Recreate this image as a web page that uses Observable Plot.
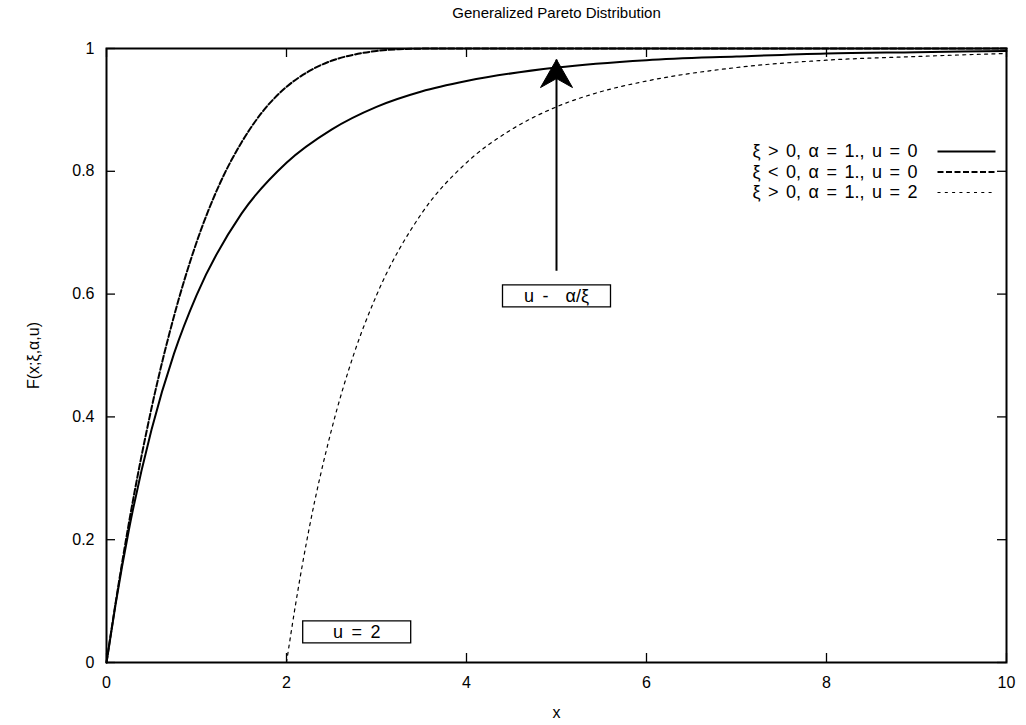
<!DOCTYPE html>
<html><head><meta charset="utf-8">
<script src="https://cdn.jsdelivr.net/npm/d3@7"></script>
<script src="https://cdn.jsdelivr.net/npm/@observablehq/plot@0.6"></script>
<style>
body{margin:0;background:#fff;}
svg{font-family:"Liberation Sans",Arial,Helvetica,sans-serif;}
.wide text{word-spacing:2.5px;}
.wider text{word-spacing:3.5px;}
</style>
</head><body><div id="chart"></div>
<script>
// ---- data ----
const title = "Generalized Pareto Distribution";
const xLabel = "x";
const yLabel = "F(x;ξ,α,u)";
const xTicks = [0, 2, 4, 6, 8, 10];
const yTicks = [0, 0.2, 0.4, 0.6, 0.8, 1];

// ξ > 0, α = 1., u = 0  (solid)
const solidX = [0, 0.1, 0.25, 0.5, 0.75, 1, 1.5, 2, 2.5, 3, 3.5, 4, 5, 6, 7, 8, 9, 10];
const solidF = [0, 0.094, 0.217, 0.379, 0.503, 0.598, 0.731, 0.814, 0.868, 0.905, 0.930, 0.947, 0.969, 0.981, 0.987, 0.992, 0.994, 0.996];
// ξ < 0, α = 1., u = 0  (dashed)
const dashX = [0, 0.1, 0.25, 0.5, 0.75, 1, 1.25, 1.5, 1.75, 2, 2.25, 2.5, 2.75, 3, 3.25, 3.5, 4, 6, 8, 10];
const dashF = [0, 0.096, 0.228, 0.414, 0.564, 0.684, 0.777, 0.847, 0.900, 0.9375, 0.963, 0.980, 0.990, 0.996, 0.9988, 0.9998, 1, 1, 1, 1];
// ξ > 0, α = 1., u = 2  (dotted)
const dotX = [2, 2.1, 2.25, 2.5, 2.75, 3, 3.5, 4, 4.5, 5, 5.5, 6, 7, 8, 9, 10];
const dotF = [0, 0.094, 0.217, 0.379, 0.503, 0.598, 0.731, 0.814, 0.868, 0.905, 0.930, 0.947, 0.969, 0.981, 0.987, 0.992];

const seriesNames = ["ξ > 0, α = 1., u = 0", "ξ < 0, α = 1., u = 0", "ξ > 0, α = 1., u = 2"];

// annotations
const arrowX = [5, 5];          // start, end
const arrowY = [0.638, 0.982];
const labelTexts = ["u -  α/ξ", "u = 2"];
const labelX = [5, 2.78];
const labelY = [0.597, 0.05];

// ---- layout / styles ----
const W = 1026, H = 725;
const mL = 106, mR = 20, mT = 48, mB = 63;
const innerW = W - mL - mR, innerH = H - mT - mB;
const tick = 9;
const styles = [
  {strokeWidth: 2, dash: null},
  {strokeWidth: 2, dash: "6,2.5"},
  {strokeWidth: 1.2, dash: "3,4.3"}
];

const solid = solidX.map((x, i) => ({x, y: solidF[i]}));
const dashed = dashX.map((x, i) => ({x, y: dashF[i]}));
const dotted = dotX.map((x, i) => ({x, y: dotF[i]}));
const curves = [solid, dashed, dotted];

const arrowHead = {draw(ctx) {
  ctx.moveTo(0, 0); ctx.lineTo(16, 28); ctx.lineTo(0, 19); ctx.lineTo(-16, 28); ctx.closePath();
}};
const boxSym = {draw(ctx) { ctx.rect(-54, -11, 108, 22); }};
const legendLine = {draw(ctx) { ctx.moveTo(-29, 0); ctx.lineTo(29, 0); }};

const labels = labelTexts.map((t, i) => ({t, x: labelX[i], y: labelY[i]}));
const fmt = d => String(d);

const marks = [];
// inward ticks on all four sides
marks.push(Plot.ruleY(yTicks, {y: d => d, insetRight: innerW - tick, stroke: "black", strokeWidth: 1.3}));
marks.push(Plot.ruleY(yTicks, {y: d => d, insetLeft: innerW - tick, stroke: "black", strokeWidth: 1.3}));
marks.push(Plot.ruleX(xTicks, {x: d => d, insetTop: innerH - tick, stroke: "black", strokeWidth: 1.3}));
marks.push(Plot.ruleX(xTicks, {x: d => d, insetBottom: innerH - tick, stroke: "black", strokeWidth: 1.3}));
// tick labels
marks.push(Plot.axisX({ticks: xTicks, tickFormat: fmt, tickSize: 0, tickPadding: 14, fontSize: 16, label: null}));
marks.push(Plot.axisY({ticks: yTicks, tickFormat: fmt, tickSize: 0, tickPadding: 12, fontSize: 16, label: null}));
// curves
curves.forEach((c, i) => marks.push(Plot.line(c, {x: "x", y: "y", stroke: "black", strokeWidth: styles[i].strokeWidth, strokeDasharray: styles[i].dash, curve: "monotone-x"})));
// arrow
marks.push(Plot.link([0], {x1: () => arrowX[0], y1: () => arrowY[0], x2: () => arrowX[1], y2: () => arrowY[1], stroke: "black", strokeWidth: 2}));
marks.push(Plot.dot([0], {x: () => arrowX[1], y: () => arrowY[1], symbol: arrowHead, fill: "black", stroke: "black", strokeWidth: 1, r: 5}));
// boxed labels
marks.push(Plot.dot(labels, {x: "x", y: "y", symbol: boxSym, fill: "white", stroke: "black", strokeWidth: 1.3, r: 5}));
marks.push(Plot.text(labels, {x: "x", y: "y", text: "t", fontSize: 18, fill: "black", className: "wider"}));
// frame
marks.push(Plot.frame({stroke: "black", strokeWidth: 2}));
// legend
seriesNames.forEach((name, i) => {
  const dy = 103 + i * 20.5;
  marks.push(Plot.text([name], {text: d => d, frameAnchor: "top-right", textAnchor: "end", lineAnchor: "middle", dx: -89, dy, fontSize: 18, fill: "black", className: "wide"}));
  marks.push(Plot.dot([0], {frameAnchor: "top-right", dx: -40, dy, symbol: legendLine, stroke: "black", fill: "none", strokeWidth: styles[i].strokeWidth, strokeDasharray: styles[i].dash, r: 5}));
});
// title & axis labels
marks.push(Plot.text([title], {text: d => d, frameAnchor: "top", lineAnchor: "middle", textAnchor: "middle", dy: -35, fontSize: 15, fill: "black"}));
marks.push(Plot.text([xLabel], {text: d => d, frameAnchor: "bottom", lineAnchor: "middle", textAnchor: "middle", dy: 50, fontSize: 16, fill: "black"}));
marks.push(Plot.text([yLabel], {text: d => d, frameAnchor: "left", lineAnchor: "middle", textAnchor: "middle", dx: -73, rotate: -90, fontSize: 16, fill: "black"}));

const chart = Plot.plot({
  width: W, height: H,
  marginLeft: mL, marginRight: mR, marginTop: mT, marginBottom: mB,
  x: {domain: [0, 10]},
  y: {domain: [0, 1]},
  style: {fontFamily: '"Liberation Sans", Arial, sans-serif', color: "black", background: "white"},
  marks
});
document.getElementById("chart").append(chart);
</script>
</body></html>
